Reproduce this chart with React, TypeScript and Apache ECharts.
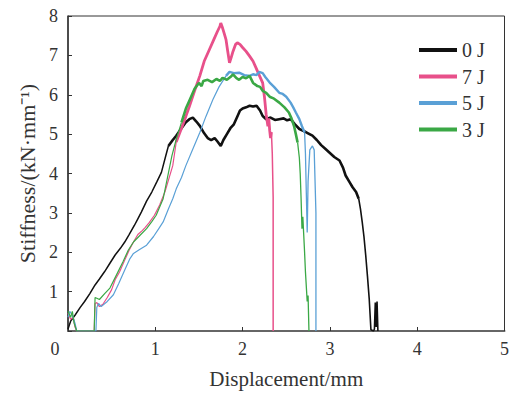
import React, { useEffect, useRef } from "react";
import * as echarts from "echarts";

const seriesNames = ["0 J", "7 J", "5 J", "3 J"];
const seriesColors = ["#111111", "#e8508a", "#5aa0d6", "#3aa845"];

const xTicks = [0, 1, 2, 3, 4, 5];
const yTicks = [0, 1, 2, 3, 4, 5, 6, 7, 8];

// 0 J
const black0JRise: number[][] = [
  [0.0, 0.05], [0.03, 0.25], [0.08, 0.4], [0.14, 0.6], [0.19, 0.75], [0.25, 0.95], [0.31, 1.17],
  [0.36, 1.32], [0.42, 1.51], [0.48, 1.72], [0.54, 1.93], [0.6, 2.1], [0.65, 2.26], [0.7, 2.45],
  [0.76, 2.68], [0.8, 2.85], [0.84, 3.02], [0.9, 3.3], [0.96, 3.53], [1.02, 3.8], [1.07, 4.03],
  [1.12, 4.45], [1.15, 4.7],
];
const black0JTop: number[][] = [
  [1.15, 4.7], [1.2, 4.85], [1.24, 4.96], [1.3, 5.15], [1.35, 5.3], [1.39, 5.38],
  [1.43, 5.42], [1.47, 5.32], [1.51, 5.21], [1.56, 5.02], [1.6, 4.9], [1.64, 4.85], [1.68, 4.9],
  [1.71, 4.82], [1.75, 4.7], [1.78, 4.85], [1.82, 5.0], [1.86, 5.15], [1.9, 5.25], [1.94, 5.45],
  [1.97, 5.6], [2.0, 5.65], [2.04, 5.68], [2.08, 5.72], [2.12, 5.7], [2.16, 5.72], [2.2, 5.6],
  [2.23, 5.46], [2.27, 5.38], [2.32, 5.42], [2.37, 5.36], [2.42, 5.38], [2.47, 5.4], [2.51, 5.35],
  [2.55, 5.38], [2.6, 5.25], [2.65, 5.13], [2.7, 5.08], [2.75, 5.02], [2.8, 4.96], [2.85, 4.85],
  [2.9, 4.72], [2.95, 4.62], [3.0, 4.52], [3.05, 4.42], [3.11, 4.33], [3.15, 4.15], [3.18, 3.95],
  [3.22, 3.8], [3.26, 3.65], [3.3, 3.53], [3.33, 3.36],
];
const black0JFall: number[][] = [
  [3.33, 3.36], [3.35, 3.1], [3.37, 2.77], [3.39, 2.4],
  [3.41, 1.93], [3.43, 1.4], [3.45, 0.83], [3.47, 0.03], [3.5, 0.0], [3.51, 0.05], [3.52, 0.72],
  [3.53, 0.1], [3.54, 0.75], [3.55, 0.0],
];

// 7 J
const pink7JRise: number[][] = [
  [0.0, 0.45], [0.03, 0.3], [0.06, 0.35], [0.08, 0.1], [0.1, 0.0], [0.3, 0.0], [0.31, 0.7],
  [0.33, 0.72], [0.36, 0.62], [0.4, 0.68], [0.45, 0.85], [0.5, 1.05], [0.54, 1.3], [0.59, 1.5],
  [0.65, 1.8], [0.7, 2.05], [0.73, 2.18], [0.76, 2.3], [0.8, 2.45], [0.85, 2.55], [0.88, 2.62],
  [0.93, 2.75], [0.99, 2.94], [1.05, 3.2], [1.11, 3.53], [1.16, 3.9], [1.2, 4.2], [1.24, 4.8],
];
const pink7JTop: number[][] = [
  [1.24, 4.8], [1.3, 5.15], [1.35, 5.45], [1.39, 5.7], [1.45, 6.1], [1.51, 6.48], [1.56, 6.85], [1.62, 7.15],
  [1.67, 7.4], [1.71, 7.6], [1.74, 7.74], [1.75, 7.82], [1.77, 7.7], [1.79, 7.55], [1.81, 7.4],
  [1.83, 7.1], [1.85, 6.81], [1.87, 6.95], [1.89, 7.1], [1.92, 7.28], [1.94, 7.32], [1.97, 7.28],
  [2.0, 7.2], [2.04, 7.1], [2.08, 6.98], [2.12, 6.85], [2.15, 6.7], [2.19, 6.5], [2.23, 6.3],
  [2.25, 5.95], [2.27, 5.5], [2.29, 5.2], [2.3, 5.4], [2.31, 5.1], [2.32, 4.9], [2.33, 5.05],
];
const pink7JFall: number[][] = [
  [2.33, 5.05], [2.34, 4.5], [2.35, 3.4], [2.35, 0.0],
];

// 5 J
const blue5JRise: number[][] = [
  [0.0, 0.35], [0.02, 0.5], [0.05, 0.4], [0.08, 0.2], [0.1, 0.0], [0.32, 0.0], [0.33, 0.6],
  [0.35, 0.7], [0.38, 0.62], [0.45, 0.75], [0.52, 0.92], [0.58, 1.2], [0.65, 1.55], [0.71, 1.84],
  [0.75, 1.97], [0.82, 2.07], [0.9, 2.18], [0.98, 2.4], [1.04, 2.6], [1.09, 2.77], [1.15, 3.1],
  [1.2, 3.36], [1.24, 3.61], [1.3, 3.9], [1.35, 4.2], [1.43, 4.62], [1.51, 5.04], [1.58, 5.45],
  [1.66, 5.88], [1.73, 6.2], [1.81, 6.48],
];
const blue5JTop: number[][] = [
  [1.81, 6.48], [1.85, 6.58], [1.9, 6.55], [1.96, 6.56], [2.02, 6.5],
  [2.08, 6.48], [2.12, 6.52], [2.16, 6.5], [2.19, 6.58], [2.23, 6.55], [2.26, 6.45], [2.31, 6.31],
  [2.36, 6.2], [2.42, 6.05], [2.46, 6.02], [2.5, 5.95], [2.55, 5.8], [2.58, 5.68], [2.61, 5.55],
  [2.65, 5.38], [2.68, 5.2], [2.71, 5.04],
];
const blue5JFall: number[][] = [
  [2.71, 5.04], [2.72, 4.5], [2.73, 3.5], [2.74, 2.5], [2.75, 3.8],
  [2.77, 4.6], [2.8, 4.7], [2.82, 4.6], [2.84, 3.0], [2.84, 0.0],
];

// 3 J
const green3JRise: number[][] = [
  [0.0, 0.5], [0.03, 0.35], [0.05, 0.5], [0.07, 0.2], [0.1, 0.0], [0.3, 0.0], [0.31, 0.85],
  [0.33, 0.83], [0.36, 0.8], [0.42, 0.95], [0.48, 1.09], [0.55, 1.4], [0.63, 1.76], [0.69, 2.05],
  [0.75, 2.26], [0.82, 2.42], [0.9, 2.6], [0.96, 2.78], [1.01, 2.94], [1.05, 3.15], [1.09, 3.36],
  [1.14, 3.9], [1.19, 4.45], [1.24, 4.87], [1.3, 5.3],
];
const green3JTop: number[][] = [
  [1.3, 5.3], [1.35, 5.65], [1.4, 5.9], [1.45, 6.15],
  [1.5, 6.3], [1.53, 6.22], [1.55, 6.35], [1.6, 6.38], [1.65, 6.32], [1.7, 6.4], [1.74, 6.35],
  [1.77, 6.43], [1.82, 6.38], [1.86, 6.45], [1.89, 6.52], [1.93, 6.42], [1.96, 6.38], [2.0, 6.45],
  [2.04, 6.42], [2.08, 6.48], [2.12, 6.3], [2.17, 6.22], [2.2, 6.2], [2.23, 6.1], [2.27, 6.05],
  [2.31, 5.95], [2.36, 5.9], [2.42, 5.8], [2.48, 5.68], [2.53, 5.55], [2.56, 5.4], [2.59, 5.2],
  [2.61, 5.0], [2.63, 4.79],
];
const green3JFall: number[][] = [
  [2.63, 4.79], [2.65, 4.4], [2.66, 4.0], [2.67, 3.36], [2.68, 2.6], [2.69, 2.9],
  [2.7, 2.45], [2.71, 2.0], [2.72, 1.5], [2.74, 0.75], [2.75, 0.9], [2.76, 0.0],
];

const segments: { idx: number; data: number[][]; width: number }[] = [
  { idx: 0, data: black0JRise, width: 1.5 },
  { idx: 0, data: black0JTop, width: 2.6 },
  { idx: 0, data: black0JFall, width: 1.6 },
  { idx: 1, data: pink7JRise, width: 1.2 },
  { idx: 1, data: pink7JTop, width: 2.8 },
  { idx: 1, data: pink7JFall, width: 1.5 },
  { idx: 2, data: blue5JRise, width: 1.2 },
  { idx: 2, data: blue5JTop, width: 2.4 },
  { idx: 2, data: blue5JFall, width: 1.3 },
  { idx: 3, data: green3JRise, width: 1.2 },
  { idx: 3, data: green3JTop, width: 2.6 },
  { idx: 3, data: green3JFall, width: 1.3 },
];

const FONT = "Liberation Serif";

export default function App() {
  const ref = useRef<HTMLDivElement>(null);
  useEffect(() => {
    document.body.style.margin = "0";
    if (!ref.current) return;
    const chart = echarts.init(ref.current, null, { renderer: "svg" });
    chart.setOption({
      animation: false,
      grid: {
        left: 68,
        right: 6,
        top: 16,
        bottom: 61,
        show: true,
        borderColor: "#333",
        borderWidth: 1,
      },
      legend: {
        orient: "vertical",
        left: 414,
        top: 35,
        itemWidth: 38,
        itemHeight: 4,
        itemGap: 6.5,
        itemTextGap: 8,
        icon: "rect",
        data: seriesNames,
        textStyle: { fontFamily: FONT, fontSize: 20, color: "#333", lineHeight: 20 },
      },
      xAxis: {
        type: "value",
        min: xTicks[0],
        max: xTicks[xTicks.length - 1],
        interval: 1,
        name: "Displacement/mm",
        nameLocation: "middle",
        nameGap: 37,
        nameTextStyle: { fontFamily: FONT, fontSize: 21, color: "#333" },
        axisLine: { show: true, lineStyle: { color: "#666", width: 2 } },
        axisTick: { show: true, inside: true, length: 4, lineStyle: { color: "#333" } },
        axisLabel: {
          fontFamily: FONT,
          fontSize: 18,
          color: "#333",
          margin: 9,
          showMinLabel: true,
          showMaxLabel: true,
          formatter: (v: number) => (v === 0 ? "{o|0}" : String(v)),
          rich: { o: { padding: [0, 26, 0, 0], fontFamily: FONT, fontSize: 18, color: "#333" } },
        },
        splitLine: { show: false },
      },
      yAxis: {
        type: "value",
        min: yTicks[0],
        max: yTicks[yTicks.length - 1],
        interval: 1,
        name: "Stiffness/(kN·mm⁻¹)",
        nameLocation: "middle",
        nameGap: 30,
        nameTextStyle: { fontFamily: FONT, fontSize: 22, color: "#333" },
        axisLine: { show: true, lineStyle: { color: "#333", width: 1.5 } },
        axisTick: { show: true, inside: true, length: 4, lineStyle: { color: "#333" } },
        axisLabel: {
          fontFamily: FONT,
          fontSize: 18,
          color: "#333",
          margin: 10,
          formatter: (v: number) => (v === 0 ? "" : String(v)),
        },
        splitLine: { show: false },
      },
      series: segments.map((s, i) => ({
        name: seriesNames[s.idx],
        type: "line",
        data: s.data,
        showSymbol: false,
        symbol: "none",
        color: seriesColors[s.idx],
        lineStyle: { color: seriesColors[s.idx], width: s.width },
        z: 2 + s.idx,
      })),
    });
    return () => chart.dispose();
  }, []);
  return <div ref={ref} style={{ width: 512, height: 394 }} />;
}
